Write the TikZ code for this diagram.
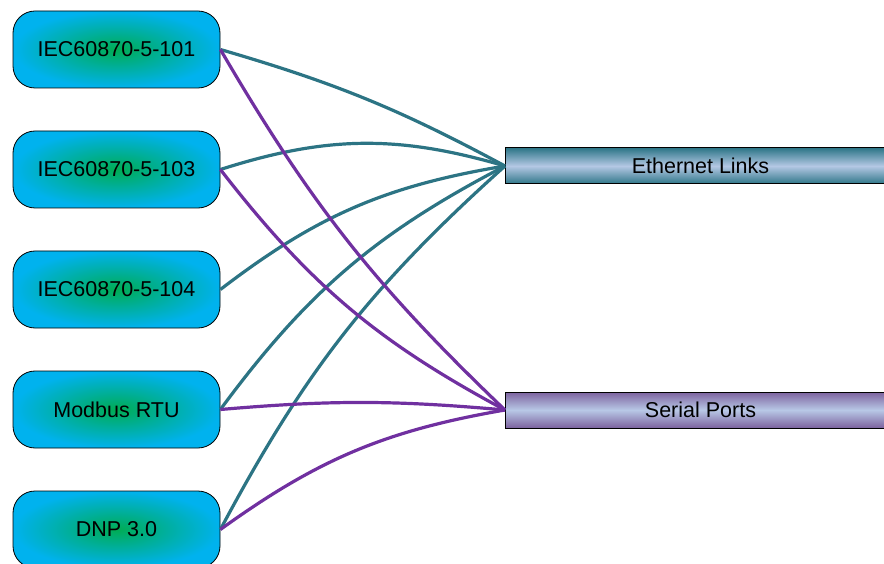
\documentclass[tikz,border=0pt]{standalone}
\usepackage{fontspec}
\setmainfont{Liberation Sans}

\definecolor{boxcyan}{RGB}{0,178,238}
\definecolor{boxgreen}{RGB}{0,172,84}
\definecolor{ethdark}{RGB}{46,118,136}
\definecolor{ethlight}{RGB}{180,200,228}
\definecolor{serdark}{RGB}{124,98,158}
\definecolor{serlight}{RGB}{184,200,230}
\definecolor{ethline}{RGB}{44,116,132}
\definecolor{serline}{RGB}{112,48,160}

\begin{document}
\begin{tikzpicture}[x=1pt, y=-1pt,
    proto/.style={draw=black, line width=0.8pt, rounded corners=22pt,
        inner color=boxgreen, outer color=boxcyan,
        minimum width=207pt, minimum height=77pt,
        font=\fontsize{21.5}{26}\selectfont},
    port/.style={draw=black, line width=1pt, anchor=west,
        minimum width=390pt, minimum height=36pt,
        font=\fontsize{21.5}{26}\selectfont},
    eline/.style={ethline, line width=3.2pt},
    sline/.style={serline, line width=3.2pt}]
    \useasboundingbox (0,0) rectangle (884,564);
    \clip (0,0) rectangle (884,564);

    % protocols
    \node[proto] (p101) at (116.5, 49.5) {IEC60870-5-101};
    \node[proto] (p103) at (116.5, 169.5) {IEC60870-5-103};
    \node[proto] (p104) at (116.5, 289.5) {IEC60870-5-104};
    \node[proto] (modbus) at (116.5, 409.5) {Modbus RTU};
    \node[proto] (dnp) at (116.5, 529.5) {DNP 3.0};

    % interfaces
    \node[port, top color=ethdark, bottom color=ethdark, middle color=ethlight]
        (eth) at (505, 166) {Ethernet Links};
    \node[port, top color=serdark, bottom color=serdark, middle color=serlight]
        (serial) at (505, 410) {Serial Ports};

    % ethernet links
    \draw[eline] (p101.east) to[bend left=6] (eth.west);
    \draw[eline] (p103.east) to[bend left=17] (eth.west);
    \draw[eline] (p104.east) to[bend left=14] (eth.west);
    \draw[eline] (modbus.east) to[bend left=13] (eth.west);
    \draw[eline] (dnp.east) to[bend left=10] (eth.west);

    % serial ports
    \draw[sline] (p101.east) to[bend right=8] (serial.west);
    \draw[sline] (p103.east) to[bend right=12] (serial.west);
    \draw[sline] (modbus.east) to[bend left=5] (serial.west);
    \draw[sline] (dnp.east) to[bend left=13] (serial.west);
\end{tikzpicture}
\end{document}
